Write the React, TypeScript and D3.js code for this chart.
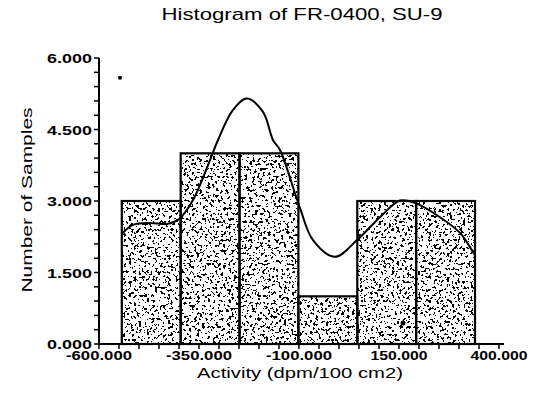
import React from "react";
import * as d3 from "d3";

const binEdges = [-543, -395.8, -248.7, -101.5, 45.7, 192.8, 340];
const binCounts = [3, 4, 4, 1, 3, 3];
const curveX = [-543, -515, -472.5, -430, -400, -365, -322.5, -302.5, -265, -230.75, -190, -165, -147.5, -97.5, -65, -10, 45, 102.5, 152.5, 190, 252.5, 302.5, 335, 340];
const curveY = [2.31, 2.5, 2.54, 2.52, 2.62, 3.02, 3.86, 4.28, 4.91, 5.15, 4.87, 4.28, 4.07, 2.85, 2.18, 1.83, 2.18, 2.66, 3.01, 2.96, 2.66, 2.33, 1.93, 1.86];
const xTickValues = [-600, -350, -100, 150, 400];
const xTickLabels = ["-600.000", "-350.000", "-100.000", "150.000", "400.000"];
const yTickValues = [0, 1.5, 3, 4.5, 6];
const yTickLabels = ["0.000", "1.500", "3.000", "4.500", "6.000"];
const title = "Histogram of FR-0400, SU-9";
const xTitle = "Activity (dpm/100 cm2)";
const yTitle = "Number of Samples";

const FONT = "'Liberation Sans', Arial, sans-serif";

export default function App() {
  const x = d3.scaleLinear().domain([-600, 400]).range([99, 499]);
  const y = d3.scaleLinear().domain([0, 6]).range([344, 58]);
  const minorX = d3.range(-600, 400.1, 50);
  const minorY = d3.range(0, 6.01, 0.3);
  const pts: [number, number][] = curveX.map((v, i) => [v, curveY[i]]);
  const line = d3
    .line<[number, number]>()
    .x((d) => x(d[0]))
    .y((d) => y(d[1]))
    .curve(d3.curveCatmullRom.alpha(0.5));

  return (
    <div style={{ position: "fixed", left: 0, top: 0 }}>
      <svg width={535} height={396} style={{ display: "block", background: "#fff" }}>
        <defs>
          <filter id="speckle" filterUnits="userSpaceOnUse" x={0} y={0} width={535} height={396}>
            <feTurbulence type="fractalNoise" baseFrequency="0.38" numOctaves={2} seed={7} result="noise" />
            <feColorMatrix
              in="noise"
              type="matrix"
              values="0 0 0 0 0  0 0 0 0 0  0 0 0 0 0  1 0 0 0 0"
              result="a"
            />
            <feComponentTransfer in="a" result="th">
              <feFuncA type="discrete" tableValues="0 0 0 0 0 0 1 1 1 1" />
            </feComponentTransfer>
            <feComposite in="th" in2="SourceAlpha" operator="in" />
          </filter>
        </defs>

        <text x={302} y={19.5} textAnchor="middle" fontFamily={FONT} fontSize={17} textLength={281} lengthAdjust="spacingAndGlyphs">
          {title}
        </text>

        {binCounts.map((c, i) => {
          const x0 = x(binEdges[i]);
          const x1 = x(binEdges[i + 1]);
          return (
            <g key={i}>
              <rect x={x0} y={y(c)} width={x1 - x0} height={y(0) - y(c)} fill="#fff" />
              <rect x={x0} y={y(c)} width={x1 - x0} height={y(0) - y(c)} fill="#000" filter="url(#speckle)" />
            </g>
          );
        })}
        {binCounts.map((c, i) => {
          const x0 = x(binEdges[i]);
          const x1 = x(binEdges[i + 1]);
          return (
            <rect key={"o" + i} x={x0} y={y(c)} width={x1 - x0} height={y(0) - y(c)} fill="none" stroke="#000" strokeWidth={2.2} />
          );
        })}

        <path d={line(pts) || ""} fill="none" stroke="#000" strokeWidth={2} />

        {/* axes */}
        <line x1={x(-600)} x2={x(-600)} y1={y(6)} y2={y(0) + 1} stroke="#000" strokeWidth={2} />
        <line x1={x(-600) - 1} x2={504} y1={y(0)} y2={y(0)} stroke="#000" strokeWidth={2} />
        {minorY.map((v, i) => (
          <line key={"my" + i} x1={x(-600) - 5} x2={x(-600)} y1={y(v)} y2={y(v)} stroke="#000" strokeWidth={1.5} />
        ))}
        {minorX.map((v, i) => (
          <line key={"mx" + i} x1={x(v)} x2={x(v)} y1={y(0)} y2={y(0) + 5} stroke="#000" strokeWidth={1.5} />
        ))}
        {yTickValues.map((v, i) => (
          <text key={"yt" + i} x={92} y={y(v) + 5} textAnchor="end" fontFamily={FONT} fontWeight="bold" fontSize={13} textLength={45} lengthAdjust="spacingAndGlyphs">
            {yTickLabels[i]}
          </text>
        ))}
        {xTickValues.map((v, i) => (
          <text
            key={"xt" + i}
            x={x(v)}
            y={359.5}
            textAnchor="middle"
            fontFamily={FONT}
            fontWeight="bold"
            fontSize={12}
            textLength={xTickLabels[i].startsWith("-") ? 66 : 57}
            lengthAdjust="spacingAndGlyphs"
          >
            {xTickLabels[i]}
          </text>
        ))}

        <text x={300} y={378} textAnchor="middle" fontFamily={FONT} fontSize={15} textLength={206} lengthAdjust="spacingAndGlyphs">
          {xTitle}
        </text>
        <text
          transform="translate(32,200) rotate(-90)"
          textAnchor="middle"
          fontFamily={FONT}
          fontSize={15.5}
          textLength={185}
          lengthAdjust="spacingAndGlyphs"
        >
          {yTitle}
        </text>

        {/* scan marks */}
        <circle cx={120} cy={77.7} r={2} fill="#000" />
        <circle cx={403} cy={323} r={2.5} fill="#000" />
      </svg>
    </div>
  );
}
